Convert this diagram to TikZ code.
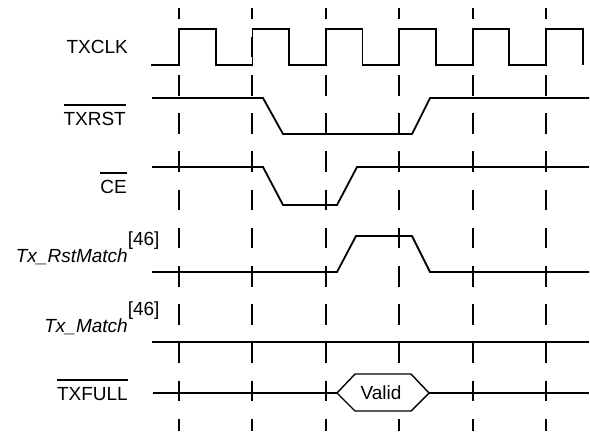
\documentclass[tikz,border=0pt]{standalone}
\usepackage{fontspec}
\setmainfont{Liberation Sans}
\newcommand\myovl[1]{\vbox{\hrule height 1.5bp\kern 6.2bp\hbox{#1}}}
\begin{document}
\begin{tikzpicture}[x=1bp,y=-1bp,
  sig/.style={line width=1.8bp, line join=miter},
  hexline/.style={line width=1.4bp, line join=miter, fill=white},
  gridline/.style={line width=1.9bp, dash pattern=on 20.5bp off 17.7bp, dash phase=9.4bp},
  lab/.style={anchor=base east, inner sep=0pt, font=\fontsize{19bp}{22bp}\selectfont},
  vtext/.style={anchor=base, inner sep=0pt, font=\fontsize{19bp}{22bp}\selectfont}]
\useasboundingbox (0,0) rectangle (590,431);
% time grid
\foreach \x in {179,252.4,325.8,399.2,472.6,546}
  \draw[gridline] (\x,8) -- (\x,431);
% labels
\node[lab] (ltxclk) at (128,53.3) {TXCLK};
\node[lab] (ltxrst) at (126,125) {\myovl{TXRST}};
\node[lab] (lce) at (127,193) {\myovl{CE}};
\node[lab] (lrstm) at (128,262) {\itshape Tx\_RstMatch\/\rlap{\upshape\raisebox{17bp}{[46]}}};
\node[lab] (lmatch) at (128,332) {\itshape Tx\_Match\/\rlap{\upshape\raisebox{17bp}{[46]}}};
\node[lab] (lfull) at (128,400) {\myovl{TXFULL}};
% TXCLK
\draw[sig] (151,65) -- (179,65) -- (179,29) -- (215.7,29) -- (215.7,65)
  -- (252.4,65) -- (252.4,29) -- (289.1,29) -- (289.1,65)
  -- (325.8,65) -- (325.8,29) -- (362.5,29) -- (362.5,65)
  -- (399.2,65) -- (399.2,29) -- (435.9,29) -- (435.9,65)
  -- (472.6,65) -- (472.6,29) -- (509.3,29) -- (509.3,65)
  -- (546,65) -- (546,29) -- (582.7,29) -- (582.7,65);
% TXRST
\draw[sig] (152,98) -- (263,98) -- (283,134) -- (412,134) -- (430,98) -- (589,98);
% CE
\draw[sig] (152,167) -- (263,167) -- (283,205) -- (337,205) -- (357,167) -- (589,167);
% Tx_RstMatch
\draw[sig] (152,272) -- (337,272) -- (356,236) -- (412,236) -- (430,272) -- (589,272);
% Tx_Match
\draw[sig] (152,342) -- (589,342);
% TXFULL
\draw[sig] (153,393) -- (337,393);
\draw[hexline] (337,393) -- (355,374) -- (411,374) -- (429,393) -- (411,411) -- (355,411) -- cycle;
\draw[sig] (429,393) -- (589,393);
\node[vtext] (valid) at (381,399.3) {Valid};
\end{tikzpicture}
\end{document}
